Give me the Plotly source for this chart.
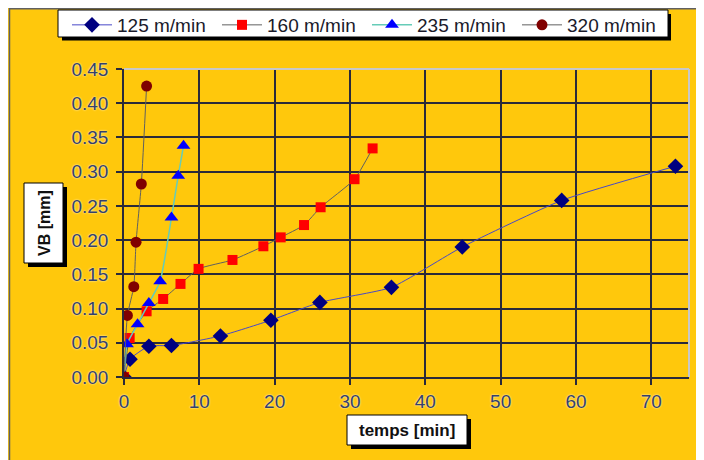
import plotly.graph_objects as go

# ---------------- data ----------------
names = ["125 m/min", "160 m/min", "235 m/min", "320 m/min"]

t125 = [0, 0.8, 3.3, 6.3, 12.8, 19.5, 26.0, 35.5, 44.9, 58.1, 73.2]
vb125 = [0, 0.026, 0.045, 0.046, 0.060, 0.083, 0.109, 0.131, 0.190, 0.258, 0.308]

t160 = [0, 0.75, 3.0, 5.2, 7.5, 9.9, 14.4, 18.5, 20.8, 23.9, 26.1, 30.6, 33.0]
vb160 = [0, 0.057, 0.096, 0.114, 0.136, 0.158, 0.171, 0.191, 0.204, 0.222, 0.248, 0.289, 0.334]

t235 = [0, 0.4, 1.8, 3.3, 4.8, 6.3, 7.2, 7.9]
vb235 = [0, 0.048, 0.077, 0.108, 0.140, 0.233, 0.294, 0.338]

t320 = [0, 0.45, 1.3, 1.6, 2.3, 3.0]
vb320 = [0, 0.090, 0.132, 0.197, 0.282, 0.425]

x_ticks = [0, 10, 20, 30, 40, 50, 60, 70]
y_ticks = [0, 0.05, 0.10, 0.15, 0.20, 0.25, 0.30, 0.35, 0.40, 0.45]
y_ticklabels = ["0.00", "0.05", "0.10", "0.15", "0.20", "0.25", "0.30", "0.35", "0.40", "0.45"]

# ---------------- layout geometry ----------------
# the page body has an 8px default margin: the figure starts at window (8, 8)
OFF = 8
WIN_W, WIN_H = 704, 460
W_FIG, H_FIG = WIN_W - OFF, WIN_H - OFF
PL, PR, PT, PB = 124, 689, 69, 377          # plot area in window pixels
L, R, T, B = PL - OFF, WIN_W - PR, PT - OFF, WIN_H - PB
PW = PR - PL
PH = PB - PT


def px(xw):
    return (xw - PL) / PW


def py(yw):
    return (PB - yw) / PH


YELLOW = "#FFC80C"
FONT = "Liberation Sans, Arial, sans-serif"

fig = go.Figure()

series = [
    (t125, vb125, names[0], "#000080", "diamond", 12, "#4848c8", 1),
    (t160, vb160, names[1], "#FF0000", "square", 10, "#606060", 1),
    (t235, vb235, names[2], "#0000FF", "triangle-up", 12, "#66CCB8", 1.5),
    (t320, vb320, names[3], "#800000", "circle", 11, "#606060", 1),
]
for xs, ys, nm, mc, sym, ms, lc, lw in series:
    fig.add_trace(go.Scatter(
        x=xs, y=ys, name=nm, mode="lines+markers",
        line=dict(color=lc, width=lw, shape="spline", smoothing=0.5),
        marker=dict(color=mc, symbol=sym, size=ms, line=dict(width=0)),
    ))

shapes = []
# frame of chart area (top / left)
shapes.append(dict(type="line", xref="paper", yref="paper", x0=px(9), x1=px(WIN_W), y0=py(8.7), y1=py(8.7),
                   line=dict(color="#606060", width=1.5), layer="above"))
shapes.append(dict(type="line", xref="paper", yref="paper", x0=px(9.5), x1=px(9.5), y0=py(8), y1=py(WIN_H),
                   line=dict(color="#606060", width=1.5), layer="above"))
# plot-area light border (top / right)
shapes.append(dict(type="line", xref="paper", yref="paper", x0=0, x1=1, y0=1, y1=1,
                   line=dict(color="#C8C8C8", width=2), layer="above"))
shapes.append(dict(type="line", xref="paper", yref="paper", x0=1, x1=1, y0=0, y1=1,
                   line=dict(color="#C8C8C8", width=2), layer="above"))
# legend box with shadow
shapes.append(dict(type="rect", xref="paper", yref="paper", x0=px(62), x1=px(671), y0=py(40.5), y1=py(14),
                   fillcolor="black", line=dict(width=0), layer="above"))
shapes.append(dict(type="rect", xref="paper", yref="paper", x0=px(58), x1=px(668), y0=py(37), y1=py(10),
                   fillcolor="white", line=dict(color="black", width=1), layer="above"))
# axis title boxes with shadow
for (x0, y0, x1, y1) in [(24, 183, 63, 263), (347, 415, 467, 445)]:
    shapes.append(dict(type="rect", xref="paper", yref="paper", x0=px(x0 + 4), x1=px(x1 + 4),
                       y0=py(y1 + 4), y1=py(y0 + 4), fillcolor="black", line=dict(width=0), layer="above"))
    shapes.append(dict(type="rect", xref="paper", yref="paper", x0=px(x0), x1=px(x1),
                       y0=py(y1), y1=py(y0), fillcolor="white", line=dict(color="black", width=1), layer="above"))

annotations = [
    dict(text="<b>VB [mm]</b>", xref="paper", yref="paper", x=px(44), y=py(223), textangle=-90,
         showarrow=False, font=dict(family=FONT, size=16, color="#111111"), xanchor="center", yanchor="middle"),
    dict(text="<b>temps [min]</b>", xref="paper", yref="paper", x=px(407), y=py(430),
         showarrow=False, font=dict(family=FONT, size=17, color="#111111"), xanchor="center", yanchor="middle"),
]

tickfont = dict(family=FONT, size=19, color="#34406A", shadow="0px 0px 2px white")

fig.update_layout(
    width=W_FIG, height=H_FIG,
    margin=dict(l=L, r=R, t=T, b=B, autoexpand=False),
    paper_bgcolor=YELLOW, plot_bgcolor=YELLOW,
    shapes=shapes, annotations=annotations,
    showlegend=True,
    legend=dict(orientation="h", x=px(67), y=py(6), xanchor="left", yanchor="top",
                bgcolor="rgba(0,0,0,0)", borderwidth=0,
                font=dict(family=FONT, size=19, color="#1A1A2A"),
                entrywidth=95, entrywidthmode="pixels", itemwidth=40,
                tracegroupgap=0),
    xaxis=dict(range=[0, 75], tickvals=x_ticks, showgrid=True, gridcolor="#2A2A3A", gridwidth=1.5,
               zeroline=False, showline=True, linecolor="#2A2A3A", linewidth=1.5,
               ticks="outside", ticklen=6, tickcolor="#2A2A3A", tickwidth=1.5,
               tickfont=tickfont, fixedrange=True, automargin=False),
    yaxis=dict(range=[0, 0.45], tickvals=y_ticks, ticktext=y_ticklabels, showgrid=True,
               gridcolor="#2A2A3A", gridwidth=1.5, zeroline=False, showline=True,
               linecolor="#2A2A3A", linewidth=1.5, ticks="outside", ticklen=6,
               tickcolor="#2A2A3A", tickwidth=1.5, tickfont=tickfont, fixedrange=True,
               automargin=False, ticklabelstandoff=4),
)

fig.write_html("out.html")
